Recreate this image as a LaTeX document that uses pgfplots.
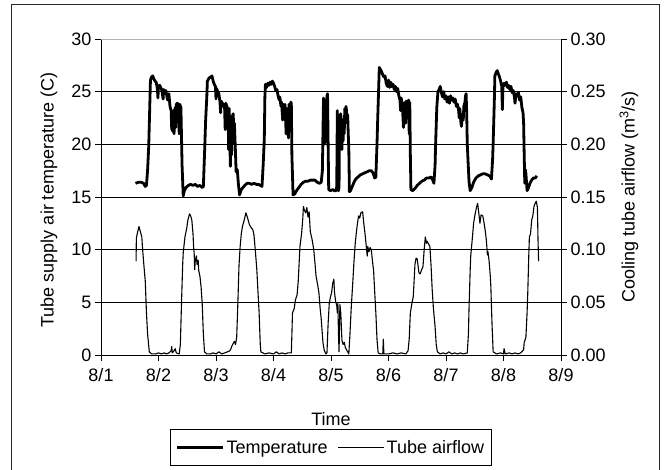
\documentclass[border=0pt]{standalone}
\usepackage{fontspec}
\setmainfont{Liberation Sans}
\usepackage{pgfplots}
\pgfplotsset{compat=1.18}
\newcommand\fs{\fontsize{18}{21}\selectfont}
\begin{document}
\begin{tikzpicture}[x=1pt,y=1pt]
\useasboundingbox (0,0) rectangle (670,470);
\draw[black!85, line width=1pt] (11,465) rectangle (659,-10);
\begin{axis}[
  at={(101pt,115pt)}, anchor=south west,
  scale only axis, width=460pt, height=316pt,
  xmin=0, xmax=8, ymin=0, ymax=30,
  axis x line*=bottom, axis y line*=left,
  xtick={0,1,2,3,4,5,6,7,8},
  xticklabels={8/1,8/2,8/3,8/4,8/5,8/6,8/7,8/8,8/9},
  ytick={0,5,10,15,20,25,30},
  /pgf/number format/assume math mode=true,
  tick align=outside, major tick length=6pt,
  ymajorgrids, grid style={black, line width=0.8pt},
  axis line style={black, line width=0.8pt, -},
  tick style={black, line width=0.8pt},
  tick label style={font=\fs},
  x tick label style={yshift=-4pt},
  label style={font=\fs},
  xlabel={Time},
  x label style={at={(axis description cs:0.5,-0.203)}, anchor=center},
  ylabel={Tube supply air temperature (C)},
  y label style={at={(axis description cs:-0.113,0.49)}, anchor=center},
  legend style={at={(0.5,-0.234)}, anchor=north, legend columns=2, draw=black, line width=0.8pt,
    font=\fs, inner xsep=5pt, inner ysep=9pt, /tikz/every even column/.append style={column sep=8pt}},
  legend image code/.code={\draw[#1] (0pt,0pt) -- (46pt,0pt);},
  clip=false,
]
\addplot[black, line width=2.8pt, line join=round] coordinates {
(0.60,16.3)(0.65,16.4)(0.70,16.4)(0.74,16.3)(0.77,16.0)(0.79,16.1)(0.81,17.5)(0.83,19.8)(0.85,24.0)(0.86,26.1)
(0.88,26.4)(0.90,26.5)(0.92,26.2)(0.94,26.0)(0.96,25.9)(0.98,25.3)(0.99,24.4)(1.00,25.5)(1.02,25.6)(1.04,25.4)
(1.06,25.1)(1.08,24.3)(1.09,25.2)(1.11,25.0)(1.13,25.1)(1.15,24.4)(1.16,24.2)(1.18,24.8)(1.20,23.6)(1.22,23.2)
(1.23,21.4)(1.24,22.8)(1.25,21.2)(1.26,23.2)(1.27,21.0)(1.29,23.5)(1.30,21.6)(1.31,23.8)(1.33,23.9)(1.35,23.6)
(1.36,21.0)(1.37,23.8)(1.39,23.5)(1.41,18.0)(1.43,15.1)(1.45,15.6)(1.48,15.9)(1.52,16.1)(1.56,16.2)(1.60,16.1)
(1.64,16.2)(1.68,16.0)(1.72,16.1)(1.76,15.9)(1.78,16.0)(1.80,19.0)(1.82,22.3)(1.84,24.5)(1.85,26.0)(1.88,26.3)
(1.91,26.4)(1.93,26.5)(1.95,26.0)(1.97,25.7)(1.99,25.5)(2.00,24.3)(2.01,25.3)(2.03,25.0)(2.05,24.8)(2.07,24.0)
(2.08,23.0)(2.09,24.1)(2.11,23.9)(2.13,23.8)(2.15,23.4)(2.16,21.4)(2.17,23.9)(2.19,23.6)(2.21,23.2)(2.22,19.5)
(2.23,23.4)(2.24,20.5)(2.25,17.9)(2.26,21.5)(2.27,19.0)(2.28,20.8)(2.29,22.8)(2.30,22.9)(2.31,20.5)(2.32,22.0)
(2.34,19.0)(2.35,17.4)(2.37,17.6)(2.39,16.2)(2.41,15.2)(2.44,15.7)(2.47,15.9)(2.50,16.1)(2.54,16.3)(2.58,16.3)
(2.62,16.2)(2.66,16.3)(2.70,16.2)(2.74,16.2)(2.77,16.1)(2.80,16.0)(2.82,18.0)(2.84,20.5)(2.85,24.5)(2.86,25.7)
(2.88,25.4)(2.90,25.8)(2.92,25.6)(2.94,25.9)(2.96,25.7)(2.98,26.0)(3.00,25.8)(3.02,25.5)(3.04,25.1)(3.06,25.2)
(3.08,24.6)(3.10,24.2)(3.11,24.5)(3.13,23.6)(3.14,24.0)(3.16,22.3)(3.17,23.8)(3.19,23.1)(3.20,23.8)(3.22,21.0)
(3.23,23.4)(3.25,22.8)(3.26,20.6)(3.27,23.8)(3.29,23.4)(3.30,24.0)(3.31,23.9)(3.32,19.0)(3.34,15.2)(3.37,15.3)
(3.40,15.6)(3.44,15.9)(3.48,16.2)(3.52,16.4)(3.56,16.5)(3.60,16.5)(3.64,16.6)(3.68,16.6)(3.72,16.6)(3.76,16.4)
(3.80,16.3)(3.83,16.4)(3.85,17.5)(3.86,21.0)(3.87,24.4)(3.88,20.0)(3.89,23.8)(3.90,24.2)(3.91,20.2)(3.92,23.5)
(3.93,24.6)(3.94,24.8)(3.95,20.0)(3.96,15.7)(3.99,15.6)(4.03,15.7)(4.06,15.6)(4.09,15.6)(4.10,16.0)(4.11,23.2)
(4.12,15.7)(4.13,15.6)(4.14,16.0)(4.15,22.8)(4.16,20.0)(4.17,22.9)(4.18,21.5)(4.19,19.5)(4.20,21.8)(4.21,20.3)
(4.22,22.4)(4.23,21.0)(4.24,23.4)(4.25,22.5)(4.26,23.6)(4.27,23.2)(4.28,22.0)(4.29,22.8)(4.30,21.0)(4.31,19.5)
(4.32,15.5)(4.34,15.6)(4.37,16.0)(4.40,16.4)(4.43,16.7)(4.47,16.9)(4.51,17.1)(4.55,17.2)(4.59,17.3)(4.63,17.4)
(4.67,17.5)(4.70,17.5)(4.73,17.3)(4.76,16.8)(4.78,16.9)(4.80,20.0)(4.81,22.0)(4.83,25.5)(4.84,27.3)(4.86,27.1)
(4.88,26.9)(4.90,26.6)(4.92,26.4)(4.94,26.5)(4.96,25.8)(4.98,25.5)(5.00,26.1)(5.02,25.4)(5.04,25.9)(5.06,25.5)
(5.08,25.7)(5.10,25.2)(5.12,25.5)(5.14,25.0)(5.16,25.3)(5.18,24.6)(5.20,24.2)(5.21,23.2)(5.22,24.4)(5.24,23.8)
(5.26,21.6)(5.27,23.5)(5.29,24.0)(5.30,22.0)(5.31,24.1)(5.33,23.8)(5.35,24.2)(5.36,21.0)(5.37,24.0)(5.38,19.0)
(5.39,15.7)(5.42,15.6)(5.46,15.8)(5.50,16.1)(5.54,16.3)(5.58,16.5)(5.62,16.6)(5.66,16.8)(5.70,16.8)(5.74,16.9)
(5.77,16.6)(5.79,16.3)(5.81,18.0)(5.82,20.1)(5.84,23.5)(5.86,25.0)(5.88,25.2)(5.90,25.5)(5.92,24.9)(5.94,24.5)
(5.96,25.0)(5.98,24.3)(6.00,24.6)(6.02,24.0)(6.04,24.5)(6.06,23.9)(6.08,24.6)(6.10,24.2)(6.12,24.4)(6.14,24.0)
(6.16,24.3)(6.18,23.6)(6.20,23.8)(6.22,23.2)(6.23,22.5)(6.24,23.4)(6.26,22.0)(6.27,21.7)(6.28,22.8)(6.30,22.3)
(6.31,23.6)(6.33,24.0)(6.34,24.6)(6.35,24.8)(6.36,23.0)(6.37,20.0)(6.40,16.5)(6.42,15.6)(6.45,15.9)(6.48,16.4)
(6.52,16.8)(6.56,17.0)(6.60,17.1)(6.64,17.2)(6.68,17.2)(6.72,17.1)(6.76,17.0)(6.79,16.7)(6.81,18.5)(6.82,20.1)
(6.84,24.0)(6.85,26.5)(6.87,26.8)(6.89,27.0)(6.91,26.7)(6.93,26.4)(6.95,26.0)(6.97,25.5)(6.98,23.3)(6.99,25.4)
(7.01,25.8)(7.03,25.6)(7.05,25.9)(7.07,25.4)(7.09,25.6)(7.11,25.2)(7.13,25.5)(7.15,24.9)(7.17,25.1)(7.19,24.5)
(7.20,23.9)(7.22,24.8)(7.24,24.6)(7.26,24.9)(7.28,24.2)(7.30,24.5)(7.32,23.5)(7.34,23.0)(7.35,22.0)(7.36,19.0)
(7.37,16.3)(7.38,17.6)(7.39,17.2)(7.41,15.6)(7.43,15.8)(7.46,16.3)(7.49,16.6)(7.52,16.8)(7.55,16.8)(7.58,17.0)
};
\addlegendentry{Temperature}
\addlegendimage{black, line width=1pt}
\addlegendentry{Tube airflow}
\draw[gray!60, line width=0.8pt] (axis cs:0,30) -- (axis cs:8,30);
\end{axis}
\begin{axis}[
  at={(101pt,115pt)}, anchor=south west,
  scale only axis, width=460pt, height=316pt,
  xmin=0, xmax=8, ymin=0, ymax=0.3,
  axis x line=none, axis y line*=right,
  ytick={0,0.05,0.1,0.15,0.2,0.25,0.3},
  /pgf/number format/assume math mode=true,
  yticklabel style={/pgf/number format/.cd, fixed, fixed zerofill, precision=2},
  tick align=outside, major tick length=6pt,
  axis line style={black, line width=0.8pt, -},
  tick style={black, line width=0.8pt},
  tick label style={font=\fs},
  label style={font=\fs},
  ylabel={Cooling tube airflow (m\textsuperscript{3}/s)},
  y label style={at={(axis description cs:1.148,0.5)}, anchor=center, rotate=0},
]
\addplot[black, line width=1.1pt, line join=round] coordinates {
(0.61,0.089)(0.615,0.111)(0.63,0.115)(0.66,0.122)(0.68,0.118)(0.71,0.112)(0.72,0.103)(0.74,0.089)(0.77,0.070)(0.79,0.041)
(0.81,0.020)(0.84,0.003)(0.88,0.001)(0.95,0.001)(1.00,0.002)(1.05,0.001)(1.10,0.002)(1.14,0.001)(1.18,0.002)(1.22,0.004)
(1.23,0.008)(1.24,0.002)(1.27,0.004)(1.29,0.006)(1.31,0.002)(1.36,0.001)(1.38,0.010)(1.40,0.049)(1.42,0.085)(1.43,0.097)
(1.46,0.112)(1.49,0.120)(1.51,0.128)(1.54,0.134)(1.56,0.132)(1.58,0.128)(1.60,0.115)(1.61,0.103)(1.62,0.097)(1.63,0.081)
(1.64,0.090)(1.66,0.094)(1.67,0.086)(1.69,0.090)(1.70,0.080)(1.72,0.075)(1.74,0.065)(1.76,0.049)(1.78,0.020)(1.80,0.003)
(1.84,0.001)(1.90,0.001)(1.95,0.002)(2.00,0.001)(2.05,0.003)(2.10,0.001)(2.15,0.002)(2.20,0.003)(2.24,0.004)(2.26,0.006)
(2.28,0.009)(2.30,0.011)(2.32,0.013)(2.34,0.010)(2.36,0.017)(2.38,0.049)(2.40,0.085)(2.42,0.103)(2.44,0.115)(2.46,0.122)
(2.49,0.128)(2.52,0.135)(2.55,0.130)(2.58,0.124)(2.61,0.121)(2.64,0.119)(2.66,0.114)(2.67,0.108)(2.69,0.095)(2.71,0.081)
(2.73,0.060)(2.75,0.040)(2.77,0.010)(2.78,0.003)(2.85,0.001)(2.92,0.002)(3.00,0.001)(3.05,0.003)(3.10,0.001)(3.15,0.002)
(3.20,0.001)(3.25,0.002)(3.31,0.002)(3.32,0.020)(3.33,0.040)(3.36,0.044)(3.38,0.052)(3.41,0.057)(3.43,0.070)(3.46,0.103)
(3.49,0.116)(3.51,0.130)(3.52,0.141)(3.54,0.137)(3.56,0.135)(3.58,0.140)(3.60,0.131)(3.62,0.136)(3.64,0.117)(3.67,0.110)
(3.70,0.100)(3.72,0.088)(3.74,0.075)(3.77,0.066)(3.79,0.059)(3.81,0.045)(3.83,0.034)(3.86,0.012)(3.88,0.005)(3.91,0.001)
(3.93,0.002)(3.95,0.030)(3.97,0.049)(3.99,0.055)(4.01,0.059)(4.03,0.068)(4.05,0.072)(4.06,0.060)(4.08,0.051)(4.10,0.047)
(4.11,0.040)(4.12,0.049)(4.13,0.020)(4.14,0.003)(4.155,0.048)(4.17,0.040)(4.19,0.014)(4.21,0.010)(4.23,0.012)(4.25,0.007)
(4.28,0.004)(4.31,0.001)(4.33,0.020)(4.35,0.043)(4.38,0.070)(4.40,0.089)(4.42,0.105)(4.44,0.116)(4.46,0.125)(4.48,0.132)
(4.50,0.130)(4.52,0.135)(4.55,0.136)(4.57,0.125)(4.59,0.116)(4.61,0.105)(4.63,0.094)(4.64,0.103)(4.66,0.098)(4.68,0.102)
(4.70,0.100)(4.71,0.095)(4.73,0.085)(4.74,0.081)(4.76,0.060)(4.78,0.040)(4.80,0.015)(4.82,0.002)(4.86,0.001)(4.90,0.001)
(4.91,0.015)(4.92,0.001)(5.00,0.001)(5.08,0.002)(5.15,0.001)(5.22,0.002)(5.30,0.001)(5.34,0.004)(5.36,0.015)(5.38,0.040)
(5.41,0.050)(5.43,0.055)(5.45,0.075)(5.46,0.086)(5.48,0.092)(5.50,0.091)(5.52,0.082)(5.53,0.078)(5.55,0.077)(5.57,0.080)
(5.60,0.084)(5.62,0.100)(5.64,0.112)(5.66,0.106)(5.67,0.108)(5.70,0.105)(5.72,0.103)(5.74,0.085)(5.76,0.062)(5.78,0.045)
(5.81,0.027)(5.83,0.010)(5.85,0.003)(5.90,0.001)(5.95,0.002)(6.00,0.001)(6.05,0.003)(6.10,0.001)(6.15,0.002)(6.20,0.001)
(6.25,0.002)(6.30,0.001)(6.37,0.002)(6.39,0.020)(6.40,0.043)(6.42,0.080)(6.43,0.094)(6.46,0.112)(6.48,0.125)(6.50,0.132)
(6.53,0.140)(6.55,0.144)(6.57,0.135)(6.59,0.125)(6.61,0.133)(6.64,0.132)(6.66,0.126)(6.68,0.119)(6.70,0.110)(6.71,0.103)
(6.72,0.095)(6.73,0.098)(6.75,0.089)(6.77,0.075)(6.78,0.065)(6.80,0.030)(6.82,0.003)(6.88,0.001)(6.95,0.002)(7.00,0.001)
(7.01,0.006)(7.03,0.001)(7.10,0.002)(7.15,0.001)(7.20,0.002)(7.25,0.001)(7.30,0.002)(7.35,0.005)(7.36,0.012)(7.38,0.015)
(7.39,0.017)(7.41,0.040)(7.42,0.055)(7.44,0.095)(7.45,0.112)(7.47,0.115)(7.49,0.128)(7.51,0.132)(7.53,0.141)(7.55,0.144)
(7.57,0.146)(7.59,0.140)(7.60,0.110)(7.61,0.089)
};
\end{axis}
\end{tikzpicture}
\end{document}
